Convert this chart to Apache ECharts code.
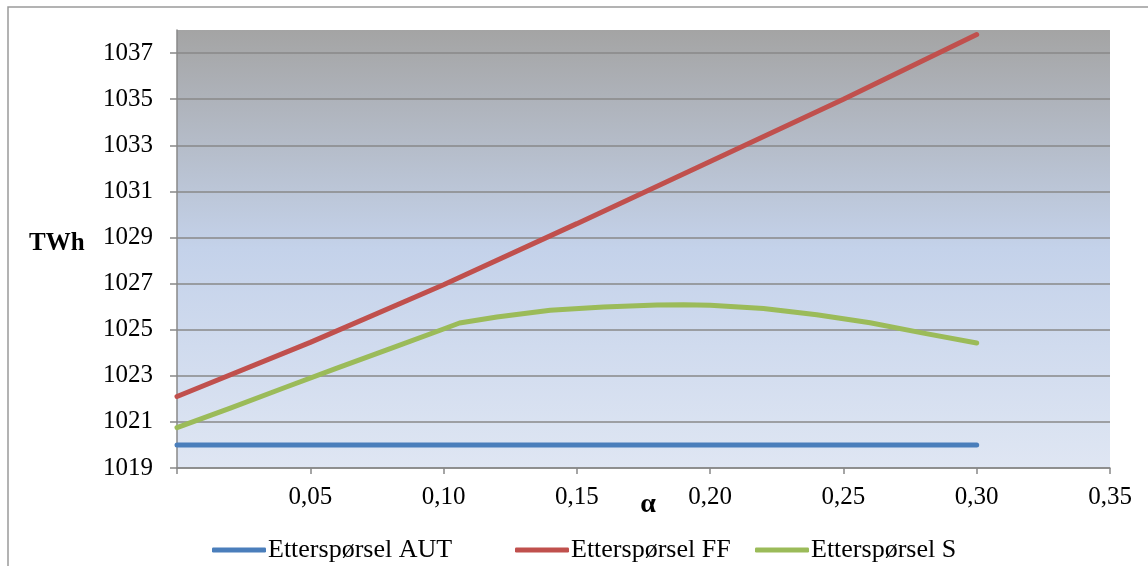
<!DOCTYPE html>
<html>
<head>
<meta charset="utf-8">
<script src="https://cdn.jsdelivr.net/npm/echarts@6/dist/echarts.min.js"></script>
<style>
html,body{margin:0;padding:0;background:#fff;}
#chart{width:1148px;height:566px;}
</style>
</head>
<body>
<div id="chart"></div>
<script>
// Data
const seriesNames = ['Etterspørsel AUT', 'Etterspørsel FF', 'Etterspørsel S'];
const alphaAUT = [0, 0.30];
const valuesAUT = [1020.0, 1020.0];
const alphaFF = [0, 0.05, 0.10, 0.15, 0.20, 0.25, 0.30];
const valuesFF = [1022.1, 1024.45, 1026.95, 1029.6, 1032.3, 1035.0, 1037.8];
const alphaS = [0, 0.02, 0.04, 0.06, 0.08, 0.10, 0.106, 0.12, 0.14, 0.16, 0.18, 0.19, 0.20, 0.22, 0.24, 0.26, 0.28, 0.30];
const valuesS = [1020.75, 1021.6, 1022.47, 1023.33, 1024.18, 1025.03, 1025.29, 1025.55, 1025.84, 1025.98, 1026.07, 1026.08, 1026.06, 1025.92, 1025.65, 1025.3, 1024.85, 1024.42];
const yTicks = { min: 1019, max: 1038, interval: 2 };
const xTicks = { min: 0, max: 0.35, interval: 0.05 };
const colors = ['#4A7EBB', '#C0504D', '#9BBB59'];

const zip = (xs, ys) => xs.map((x, i) => [x, ys[i]]);
const FONT = '"Liberation Serif", "DejaVu Serif", serif';

const legendLefts = [207, 510, 750];
const legendBase = {
  top: 532,
  itemWidth: 54, itemHeight: 5,
  icon: 'roundRect',
  textStyle: { fontFamily: FONT, fontSize: 26, color: '#000', padding: [0, 0, 0, -3] }
};

const chart = echarts.init(document.getElementById('chart'), null, { renderer: 'canvas' });
chart.setOption({
  animation: false,
  color: colors,
  grid: {
    left: 177, top: 30, right: 38, bottom: 98,
    show: true,
    borderWidth: 0,
    backgroundColor: new echarts.graphic.LinearGradient(0, 0, 0, 1, [
      { offset: 0, color: '#A4A4A4' },
      { offset: 0.5, color: '#C4D2EA' },
      { offset: 1, color: '#DFE6F3' }
    ])
  },
  graphic: [
    { type: 'rect', shape: { x: 8, y: 7, width: 1300, height: 700 }, style: { fill: 'none', stroke: '#9a9a9a', lineWidth: 1.5 }, z: -10 },
    { type: 'text', left: 29, top: 231, style: { text: 'TWh', font: 'bold 25px ' + FONT, fill: '#000' } },
    { type: 'text', x: 648, y: 505, style: { text: 'α', font: 'bold 28px ' + FONT, fill: '#000', align: 'center', verticalAlign: 'middle' } }
  ],
  legend: seriesNames.map((n, i) => Object.assign({}, legendBase, { left: legendLefts[i], data: [n] })),
  xAxis: {
    type: 'value',
    min: xTicks.min, max: xTicks.max, interval: xTicks.interval,
    axisLine: { show: true, lineStyle: { color: '#888', width: 1.5 } },
    axisTick: { show: true, length: 6, lineStyle: { color: '#888', width: 1.5 } },
    splitLine: { show: false },
    axisLabel: {
      margin: 17,
      fontFamily: FONT, fontSize: 25, color: '#000',
      formatter: v => v === 0 ? '' : v.toFixed(2).replace('.', ',')
    }
  },
  yAxis: {
    type: 'value',
    min: yTicks.min, max: yTicks.max, interval: yTicks.interval,
    axisLine: { show: true, lineStyle: { color: '#888', width: 1.5 } },
    axisTick: { show: true, length: 7, lineStyle: { color: '#888', width: 1.5 } },
    splitLine: { show: true, showMaxLine: false, lineStyle: { color: '#888', width: 1.5 } },
    axisLabel: {
      margin: 24, showMaxLabel: false,
      fontFamily: FONT, fontSize: 25, color: '#000',
      formatter: v => v === yTicks.max ? '' : String(v)
    }
  },
  series: [
    { name: seriesNames[0], type: 'line', data: zip(alphaAUT, valuesAUT), showSymbol: false, symbol: 'none', lineStyle: { width: 5, cap: 'round' } },
    { name: seriesNames[1], type: 'line', data: zip(alphaFF, valuesFF), showSymbol: false, symbol: 'none', lineStyle: { width: 5, cap: 'round' } },
    { name: seriesNames[2], type: 'line', data: zip(alphaS, valuesS), showSymbol: false, symbol: 'none', smooth: false, lineStyle: { width: 5, cap: 'round', join: 'round' } }
  ]
});
</script>
</body>
</html>
